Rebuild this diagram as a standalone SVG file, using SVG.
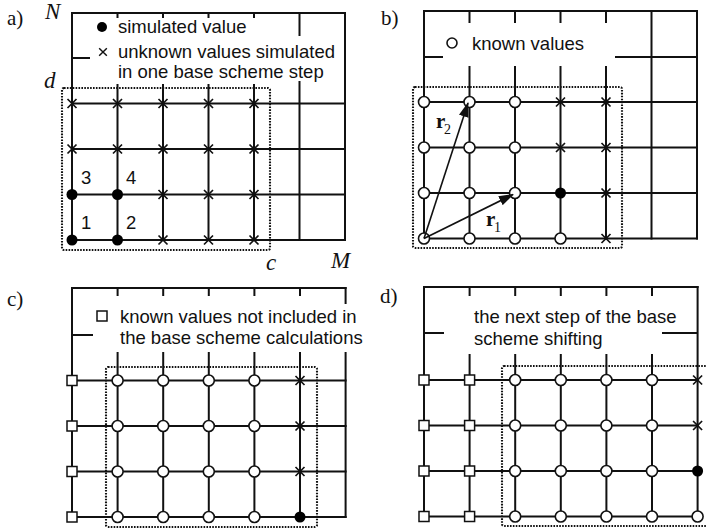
<svg xmlns="http://www.w3.org/2000/svg" width="706" height="528" viewBox="0 0 706 528">
<defs>
<style>
.g{stroke:#111;stroke-width:2;fill:none;stroke-linecap:square}
.box{stroke:#111;stroke-width:2.1;fill:none;stroke-dasharray:1.6 1.3}
.dot{fill:#000}
.o{fill:#fff;stroke:#111;stroke-width:1.6}
.sq{fill:#fff;stroke:#111;stroke-width:1.5}
.x{stroke:#111;stroke-width:1.7;fill:none}
.arr{stroke:#111;stroke-width:1.6;fill:none}
.t{font-family:"Liberation Sans",Arial,sans-serif;font-size:18.5px;fill:#111}
.lab{font-family:"Liberation Serif","Times New Roman",serif;font-size:21px;fill:#111}
.it{font-family:"Liberation Serif","Times New Roman",serif;font-style:italic;font-size:23px;fill:#111}
.r{font-family:"Liberation Serif","Times New Roman",serif;font-weight:bold;font-size:21px;fill:#111}
.sub{font-family:"Liberation Serif","Times New Roman",serif;font-size:14px;fill:#111}
</style>
<path id="cr" d="M-4.5,-4.5L4.5,4.5M-4.5,4.5L4.5,-4.5"/>
<marker id="ah" markerWidth="15" markerHeight="10" refX="14" refY="5" orient="auto" markerUnits="userSpaceOnUse">
<path d="M0,0L15,5L0,10z" fill="#111"/>
</marker>
</defs>

<!-- Panel a -->
<g id="panel-a">
<text class="lab" x="7" y="25">a)</text>
<text class="it" x="45" y="19">N</text>
<text class="it" x="44" y="88">d</text>
<text class="it" x="266" y="270">c</text>
<text class="it" x="331" y="268">M</text>
<g id="grid-a">
<path class="g" d="M72,13H345M72,103.5H345M72,149H345M72,194.5H345M72,240H345"/>
<path class="g" d="M72,13V240M345,13V240M117.5,13V17M163,13V17M208.5,13V17M254,13V17M117.5,85V240M163,85V240M208.5,85V240M254,85V240M299.5,13V35M299.5,82V240M72,58H89"/>
</g>
<rect class="box" x="62" y="88" width="208" height="162" rx="2"/>
<g id="legend-a">
<circle class="dot" cx="102" cy="27" r="5"/>
<text class="t" x="118" y="33">simulated value</text>
<use href="#cr" class="x" transform="translate(103,52) scale(0.85)"/>
<text class="t" x="118" y="58">unknown values simulated</text>
<text class="t" x="118" y="78">in one base scheme step</text>
</g>
<g id="nodes-a">
<use href="#cr" class="x" x="72" y="103.5"/><use href="#cr" class="x" x="117.5" y="103.5"/><use href="#cr" class="x" x="163" y="103.5"/><use href="#cr" class="x" x="208.5" y="103.5"/><use href="#cr" class="x" x="254" y="103.5"/>
<use href="#cr" class="x" x="72" y="149"/><use href="#cr" class="x" x="117.5" y="149"/><use href="#cr" class="x" x="163" y="149"/><use href="#cr" class="x" x="208.5" y="149"/><use href="#cr" class="x" x="254" y="149"/>
<circle class="dot" cx="72" cy="194.5" r="5.5"/><circle class="dot" cx="117.5" cy="194.5" r="5.5"/><use href="#cr" class="x" x="163" y="194.5"/><use href="#cr" class="x" x="208.5" y="194.5"/><use href="#cr" class="x" x="254" y="194.5"/>
<circle class="dot" cx="72" cy="240" r="5.5"/><circle class="dot" cx="117.5" cy="240" r="5.5"/><use href="#cr" class="x" x="163" y="240"/><use href="#cr" class="x" x="208.5" y="240"/><use href="#cr" class="x" x="254" y="240"/>
<text class="t" x="81" y="184">3</text><text class="t" x="126" y="184">4</text>
<text class="t" x="81" y="229">1</text><text class="t" x="126" y="229">2</text>
</g>
</g>

<!-- Panel b -->
<g id="panel-b">
<text class="lab" x="381" y="25">b)</text>
<g id="grid-b">
<path class="g" d="M424,11H697M424,102H697M424,147.5H697M424,193H697M424,238.5H697"/>
<path class="g" d="M424,11V238.5M651.5,11V238.5M697,11V238.5M469.5,11V22M515,11V22M560.5,11V22M606,11V22M469.5,67V238.5M515,67V238.5M560.5,67V238.5M606,67V238.5M424,57H442M616,57H697"/>
</g>
<rect class="box" x="413" y="87" width="209" height="161" rx="2"/>
<g id="legend-b">
<circle class="o" cx="452" cy="43" r="5"/>
<text class="t" x="472" y="50">known values</text>
</g>
<g id="nodes-b">
<circle class="o" cx="424" cy="102" r="5.5"/><circle class="o" cx="469.5" cy="102" r="5.5"/><circle class="o" cx="515" cy="102" r="5.5"/><use href="#cr" class="x" x="560.5" y="102"/><use href="#cr" class="x" x="606" y="102"/>
<circle class="o" cx="424" cy="147.5" r="5.5"/><circle class="o" cx="469.5" cy="147.5" r="5.5"/><circle class="o" cx="515" cy="147.5" r="5.5"/><use href="#cr" class="x" x="560.5" y="147.5"/><use href="#cr" class="x" x="606" y="147.5"/>
<circle class="o" cx="424" cy="193" r="5.5"/><circle class="o" cx="469.5" cy="193" r="5.5"/><circle class="o" cx="515" cy="193" r="5.5"/><circle class="dot" cx="560.5" cy="193" r="5.5"/><use href="#cr" class="x" x="606" y="193"/>
<circle class="o" cx="424" cy="238.5" r="5.5"/><circle class="o" cx="469.5" cy="238.5" r="5.5"/><circle class="o" cx="515" cy="238.5" r="5.5"/><circle class="o" cx="560.5" cy="238.5" r="5.5"/><use href="#cr" class="x" x="606" y="238.5"/>
</g>
<g id="connectors-b">
<line class="arr" x1="424" y1="238.5" x2="468" y2="103" marker-end="url(#ah)"/>
<line class="arr" x1="424" y1="238.5" x2="513" y2="194.5" marker-end="url(#ah)"/>
</g>
<text class="r" x="436" y="128">r</text><text class="sub" x="444" y="134">2</text>
<text class="r" x="486" y="226">r</text><text class="sub" x="494" y="232">1</text>
</g>

<!-- Panel c -->
<g id="panel-c">
<text class="lab" x="7" y="306">c)</text>
<g id="grid-c">
<path class="g" d="M72,288H345.6M72,380.5H345.6M72,426H345.6M72,471.5H345.6M72,517H345.6"/>
<path class="g" d="M72,288V517M117.6,288V295M163.2,288V295M208.8,288V295M254.4,288V295M300,288V295M117.6,353V517M163.2,353V517M208.8,353V517M254.4,353V517M300,353V517M345.6,288V303M345.6,353V517M72,335H92"/>
</g>
<rect class="box" x="106" y="367" width="211" height="160" rx="2"/>
<g id="legend-c">
<rect class="sq" x="97" y="311" width="10" height="10"/>
<text class="t" x="120" y="323">known values not included in</text>
<text class="t" x="120" y="344">the base scheme calculations</text>
</g>
<g id="nodes-c">
<rect class="sq" x="67" y="375.5" width="10" height="10"/><rect class="sq" x="67" y="421" width="10" height="10"/><rect class="sq" x="67" y="466.5" width="10" height="10"/><rect class="sq" x="67" y="512" width="10" height="10"/>
<circle class="o" cx="117.6" cy="380.5" r="5.5"/><circle class="o" cx="163.2" cy="380.5" r="5.5"/><circle class="o" cx="208.8" cy="380.5" r="5.5"/><circle class="o" cx="254.4" cy="380.5" r="5.5"/>
<circle class="o" cx="117.6" cy="426" r="5.5"/><circle class="o" cx="163.2" cy="426" r="5.5"/><circle class="o" cx="208.8" cy="426" r="5.5"/><circle class="o" cx="254.4" cy="426" r="5.5"/>
<circle class="o" cx="117.6" cy="471.5" r="5.5"/><circle class="o" cx="163.2" cy="471.5" r="5.5"/><circle class="o" cx="208.8" cy="471.5" r="5.5"/><circle class="o" cx="254.4" cy="471.5" r="5.5"/>
<circle class="o" cx="117.6" cy="517" r="5.5"/><circle class="o" cx="163.2" cy="517" r="5.5"/><circle class="o" cx="208.8" cy="517" r="5.5"/><circle class="o" cx="254.4" cy="517" r="5.5"/>
<use href="#cr" class="x" x="300" y="380.5"/><use href="#cr" class="x" x="300" y="426"/><use href="#cr" class="x" x="300" y="471.5"/><circle class="dot" cx="300" cy="517" r="5.5"/>
</g>
</g>

<!-- Panel d -->
<g id="panel-d">
<text class="lab" x="380" y="303">d)</text>
<g id="grid-d">
<path class="g" d="M424,287H697.6M424,380H697.6M424,425.5H697.6M424,471H697.6M424,516.5H697.6"/>
<path class="g" d="M424,287V516.5M697.6,287V516.5M469.6,287V295M515.2,287V295M560.8,287V295M606.4,287V295M652,287V295M469.6,355V516.5M515.2,355V516.5M560.8,355V516.5M606.4,355V516.5M652,355V516.5M424,333H443M663,333H697.6"/>
</g>
<rect class="box" x="502" y="366" width="230" height="160" rx="2"/>
<g id="legend-d">
<text class="t" x="474" y="323">the next step of the base</text>
<text class="t" x="474" y="345">scheme shifting</text>
</g>
<g id="nodes-d">
<rect class="sq" x="419" y="375" width="10" height="10"/><rect class="sq" x="419" y="420.5" width="10" height="10"/><rect class="sq" x="419" y="466" width="10" height="10"/><rect class="sq" x="419" y="511.5" width="10" height="10"/>
<rect class="sq" x="464.6" y="375" width="10" height="10"/><rect class="sq" x="464.6" y="420.5" width="10" height="10"/><rect class="sq" x="464.6" y="466" width="10" height="10"/><rect class="sq" x="464.6" y="511.5" width="10" height="10"/>
<circle class="o" cx="515.2" cy="380" r="5.5"/><circle class="o" cx="560.8" cy="380" r="5.5"/><circle class="o" cx="606.4" cy="380" r="5.5"/><circle class="o" cx="652" cy="380" r="5.5"/>
<circle class="o" cx="515.2" cy="425.5" r="5.5"/><circle class="o" cx="560.8" cy="425.5" r="5.5"/><circle class="o" cx="606.4" cy="425.5" r="5.5"/><circle class="o" cx="652" cy="425.5" r="5.5"/>
<circle class="o" cx="515.2" cy="471" r="5.5"/><circle class="o" cx="560.8" cy="471" r="5.5"/><circle class="o" cx="606.4" cy="471" r="5.5"/><circle class="o" cx="652" cy="471" r="5.5"/>
<circle class="o" cx="515.2" cy="516.5" r="5.5"/><circle class="o" cx="560.8" cy="516.5" r="5.5"/><circle class="o" cx="606.4" cy="516.5" r="5.5"/><circle class="o" cx="652" cy="516.5" r="5.5"/>
<use href="#cr" class="x" x="697.6" y="380"/><use href="#cr" class="x" x="697.6" y="425.5"/><circle class="dot" cx="697.6" cy="471" r="5.5"/><circle class="o" cx="697.6" cy="516.5" r="5.5"/>
</g>
</g>
</svg>
